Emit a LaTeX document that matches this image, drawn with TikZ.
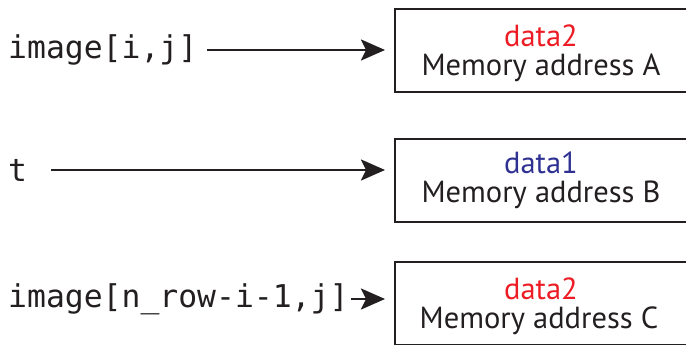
\documentclass[tikz,border=0pt]{standalone}
\usepackage{fontspec}
\setsansfont{PT Sans}
\setmonofont{DejaVu Sans Mono}
\usetikzlibrary{arrows.meta}
\definecolor{dred}{RGB}{237,28,36}
\definecolor{dblue}{RGB}{46,49,146}
\definecolor{ink}{RGB}{35,31,32}
\begin{document}
\begin{tikzpicture}[x=1pt,y=-1pt,
  membox/.style={draw=ink,line width=2.4pt,minimum width=300pt,minimum height=83pt,anchor=north west,inner sep=0pt},
  lbl/.style={font=\fontsize{31.4}{34}\selectfont\ttfamily,text=ink,inner sep=0pt,anchor=west},
  dat/.style={font=\sffamily\fontsize{30.5}{33}\selectfont,inner sep=0pt},
  conn/.style={draw=ink,line width=2.6pt,-{Stealth[length=24pt,width=21pt,inset=5pt]}}]
\useasboundingbox (0,0) rectangle (686,345);
\node[membox] (A) at (394,8) {};
\node[membox] (B) at (394,138) {};
\node[membox] (C) at (394,261) {};
\node[dat,text=dred] (dA) at (541,36) {data2};
\node[dat,text=ink] (mA) at (541,68) {Memory address A};
\node[dat,text=dblue] (dB) at (541,163) {data1};
\node[dat,text=ink] (mB) at (541,195) {Memory address B};
\node[dat,text=dred] (dC) at (541,289) {data2};
\node[dat,text=ink] (mC) at (539,321) {Memory address C};
\node[lbl] (l1) at (8,50) {image[i,j]};
\node[lbl] (l2) at (8,170) {t};
\node[lbl] (l3) at (8,299) {image[n\_row-i-1,j]};
\coordinate (tA) at (385,50);
\coordinate (tB) at (385,170);
\coordinate (tC) at (385,299);
\draw[conn] ([xshift=10pt]l1.east) -- (tA);
\draw[conn] ([xshift=24pt]l2.east) -- (tB);
\draw[conn] ([xshift=2pt]l3.east) -- (tC);
\end{tikzpicture}
\end{document}
